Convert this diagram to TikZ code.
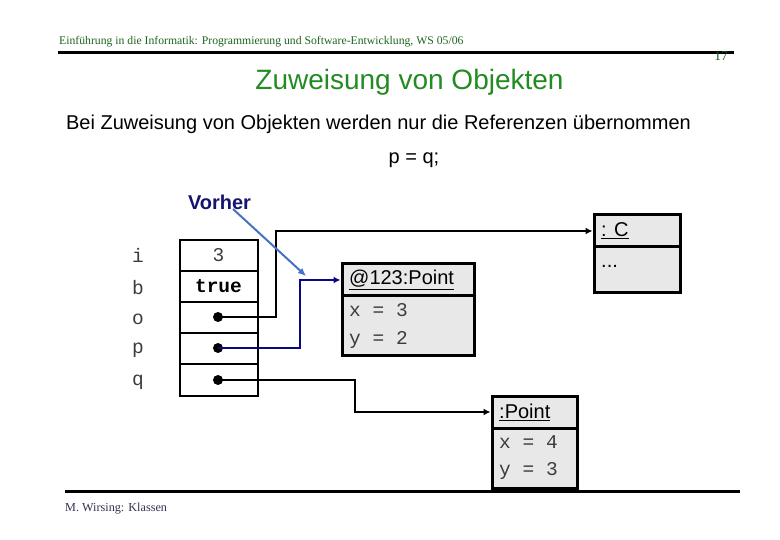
\documentclass[tikz,border=0pt]{standalone}
\usepackage{fontspec}
\setmainfont{Liberation Serif}
\newfontfamily\arialf{Liberation Sans}
\newfontfamily\monof{Liberation Mono}
\usetikzlibrary{arrows.meta,calc}
\definecolor{hdrgreen}{RGB}{30,100,30}
\definecolor{titlegreen}{RGB}{34,139,34}
\definecolor{navyline}{RGB}{10,10,128}
\definecolor{vorhercol}{RGB}{20,20,110}
\definecolor{bluearrow}{RGB}{68,114,196}
\definecolor{boxfill}{RGB}{232,232,232}
\definecolor{lblgrey}{RGB}{60,60,60}
\definecolor{footcol}{RGB}{50,50,80}
\tikzset{
  sanstext/.style={font=\arialf\fontsize{20}{22}\selectfont, inner sep=0pt},
  monotext/.style={font=\monof\fontsize{19.5}{21}\selectfont, inner sep=0pt, text=lblgrey},
  cell/.style={draw, line width=2pt, minimum width=78pt, minimum height=31pt, inner sep=0pt, font=\monof\fontsize{19.5}{21}\selectfont},
  dotnode/.style={circle, fill=black, inner sep=0pt, minimum size=10pt},
  objbox/.style={draw, line width=3pt, fill=boxfill, inner sep=0pt},
  conn/.style={line width=2.6pt, -{Latex[length=7pt,width=7pt]}},
  navyconn/.style={conn, draw=navyline, -{Latex[length=7pt,width=7pt,fill=navyline]}},
  bluearr/.style={line width=2pt, draw=bluearrow, -{Latex[length=8pt,width=7pt,fill=bluearrow]}},
  rule/.style={line width=3pt}
}
\begin{document}
\begin{tikzpicture}[x=1pt,y=-1pt]
\useasboundingbox (0,0) rectangle (780,540);
% header
\node[anchor=base west, inner sep=0pt, text=hdrgreen, font=\fontsize{11.7}{13}\selectfont] (hdr) at (59,45) {Einführung in die Informatik: Programmierung und Software-Entwicklung, WS 05/06};
\coordinate (hl1) at (58,53);
\coordinate (hl2) at (734,53);
\draw[rule] (hl1) -- (hl2);
\node[inner sep=0pt, text=hdrgreen!80!black, font=\fontsize{13.5}{15}\selectfont] (pnum) at (721,56) {17};
% titles
\node[inner sep=0pt, text=titlegreen, font=\arialf\fontsize{28}{30}\selectfont] (title) at (409.5,82) {Zuweisung von Objekten};
\node[sanstext] (sub) at (378.5,124) {Bei Zuweisung von Objekten werden nur die Referenzen übernommen};
\node[sanstext] (assign) at (414,160) {p = q;};
\node[sanstext, font=\arialf\bfseries\fontsize{20}{22}\selectfont, text=vorhercol] (vorher) at (219.5,202) {Vorher};
% variable labels
\node[monotext] (li) at (138,255.5) {i};
\node[monotext] (lb) at (138,288) {b};
\node[monotext] (lo) at (138,319) {o};
\node[monotext] (lp) at (138,350) {p};
\node[monotext] (lq) at (138,382) {q};
% table cells
\node[cell] (ci) at (218.5,255.5) {\textcolor{lblgrey}{3}};
\node[cell] (cb) at (218.5,286.5) {\textbf{true}};
\node[cell] (co) at (218.5,317.5) {};
\node[cell] (cp) at (218.5,348.5) {};
\node[cell] (cq) at (218.5,380) {};
\node[dotnode] (do) at (218,317) {};
\node[dotnode] (dp) at (218,348) {};
\node[dotnode] (dq) at (218,380) {};
% object :C
\node[objbox, minimum width=86pt, minimum height=32pt] (Ch) at (637,231) {};
\node[objbox, minimum width=86pt, minimum height=46pt] (Cb) at (637,270) {};
\node[sanstext, anchor=west] (Ct) at (601,231) {\underline{: C}};
\node[sanstext, anchor=west] (Cd) at (601,266) {...};
% object @123:Point
\node[objbox, minimum width=132pt, minimum height=32pt] (Ph) at (408,280) {};
\node[objbox, minimum width=132pt, minimum height=60pt] (Pb) at (408,326) {};
\node[sanstext, anchor=west] (Pt) at (349,280) {\underline{@123:Point}};
\node[monotext, anchor=west] (Px) at (349,310) {x = 3};
\node[monotext, anchor=west] (Py) at (349,340) {y = 2};
% object :Point
\node[objbox, minimum width=85pt, minimum height=32pt] (Qh) at (534.5,412) {};
\node[objbox, minimum width=85pt, minimum height=60pt] (Qb) at (534.5,458) {};
\node[sanstext, anchor=west] (Qt) at (499,412) {\underline{:Point}};
\node[monotext, anchor=west] (Qx) at (499,442) {x = 4};
\node[monotext, anchor=west] (Qy) at (499,471) {y = 3};
% connectors
\coordinate (ko) at (276,231);
\coordinate (kp) at (300,280);
\coordinate (kq) at (355,412);
\draw[conn] (do.center) -| (ko) -- (Ch.west);
\draw[navyconn] (dp.center) -| (kp) -- (Ph.west);
\draw[conn] (dq.center) -| (kq) -- (Qh.west);
\coordinate (vs) at (233,209);
\coordinate (ve) at (306,276);
\draw[bluearr] (vs) -- (ve);
% footer
\coordinate (fl1) at (65,491);
\coordinate (fl2) at (740,491);
\draw[rule] (fl1) -- (fl2);
\node[anchor=west, inner sep=0pt, text=footcol, font=\fontsize{12.2}{14}\selectfont] (foot) at (65,509) {M. Wirsing: Klassen};
\end{tikzpicture}
\end{document}
